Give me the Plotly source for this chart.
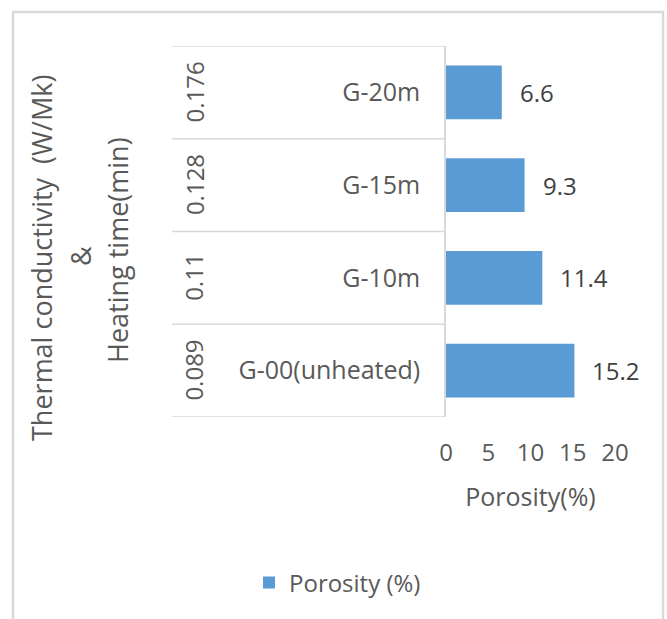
import plotly.graph_objects as go

# Samples, bottom to top on the category axis
samples = ["G-00(unheated)", "G-10m", "G-15m", "G-20m"]
conductivity = ["0.089", "0.11", "0.128", "0.176"]
porosity = [15.2, 11.4, 9.3, 6.6]
x_ticks = [0, 5, 10, 15, 20]

W, H = 667, 619
FONT = "Open Sans"
TXT = "#595959"
LINE = "#D9D9D9"
BAR = "#5B9BD5"


def px(x):
    return x / W


def py(y):
    return 1 - y / H


fig = go.Figure()
fig.add_trace(go.Bar(
    y=samples, x=porosity, orientation="h",
    marker=dict(color=BAR, line=dict(width=0)),
    name="Porosity (%)",
    hoverinfo="x+y",
))

annotations = []
# value labels right of each bar
for s, v in zip(samples, porosity):
    annotations.append(dict(
        x=v, y=s, xref="x", yref="y", text=f"{v}", showarrow=False,
        xanchor="left", xshift=16, font=dict(family=FONT, size=24, color="#404040"),
    ))
# outer category level: thermal conductivity, rotated
for s, k in zip(samples, conductivity):
    annotations.append(dict(
        x=px(194), y=s, xref="paper", yref="y", text=k, showarrow=False,
        xanchor="center", yanchor="middle",
        textangle=-90, font=dict(family=FONT, size=24, color=TXT),
    ))
# axis title lines (non-breaking space keeps the double gap)
for xpos, ypos, t in [(41, 258, "Thermal conductivity\u00a0\u00a0(W/Mk)"),
                      (80, 256, "&"),
                      (118, 250, "Heating time(min)")]:
    annotations.append(dict(
        x=px(xpos), y=py(ypos), xref="paper", yref="paper", text=t,
        xanchor="center", yanchor="middle",
        showarrow=False, textangle=-90, font=dict(family=FONT, size=27, color=TXT),
    ))

shapes = []
# table rows of the two-level category axis
for b in [-0.5, 0.5, 1.5, 2.5, 3.5]:
    shapes.append(dict(type="line", xref="paper", yref="y",
                       x0=px(172), x1=px(446), y0=b, y1=b,
                       line=dict(color=LINE, width=1.5)))
# chart frame
shapes.append(dict(type="rect", xref="paper", yref="paper",
                   x0=px(13), x1=px(663), y0=-0.2, y1=py(12),
                   line=dict(color=LINE, width=2.5), fillcolor="rgba(0,0,0,0)"))

fig.update_layout(
    width=W, height=H,
    margin=dict(l=0, r=0, t=0, b=0, autoexpand=False),
    paper_bgcolor="white", plot_bgcolor="white",
    bargap=0.42,
    showlegend=True,
    legend=dict(orientation="h", x=px(249), xanchor="left", y=py(583), yanchor="middle",
                font=dict(family=FONT, size=24, color=TXT)),
    xaxis=dict(domain=[px(446), px(615)], range=[0, 20], tickvals=x_ticks,
               automargin=False,
               showgrid=False, zeroline=False, showline=False, ticks="",
               ticklabelstandoff=19,
               tickfont=dict(family=FONT, size=24, color=TXT),
               title=dict(text="Porosity(%)", font=dict(family=FONT, size=25, color=TXT),
                          standoff=21)),
    yaxis=dict(domain=[py(417), py(46)], type="category", categoryorder="array",
               categoryarray=samples, range=[-0.5, 3.5], automargin=False,
               showgrid=False, zeroline=False, showline=True, linecolor=LINE, linewidth=1.5,
               ticks="", ticklabelstandoff=19,
               tickfont=dict(family=FONT, size=25, color=TXT)),
    annotations=annotations,
    shapes=shapes,
    font=dict(family=FONT, color=TXT),
)

fig.write_html("out.html")
